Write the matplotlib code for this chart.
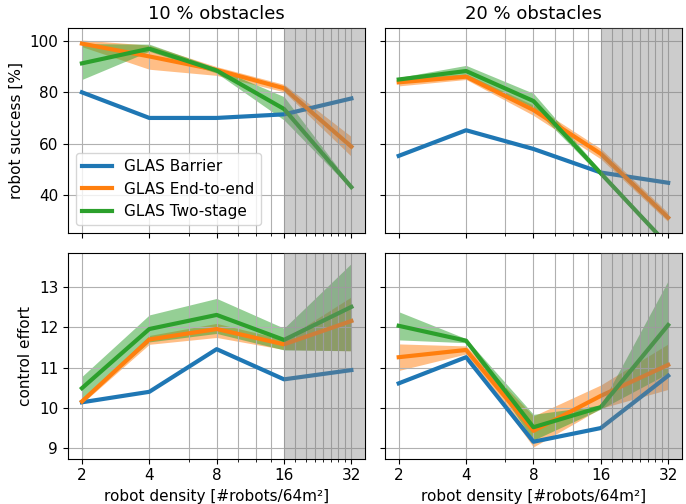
import matplotlib
matplotlib.use("Agg")
import matplotlib.pyplot as plt
import numpy as np

density = [2, 4, 8, 16, 32]
xtick_labels = ["2", "4", "8", "16", "32"]
methods = ["GLAS Barrier", "GLAS End-to-end", "GLAS Two-stage"]
colors = ["#1f77b4", "#ff7f0e", "#2ca02c"]
titles = ["10 % obstacles", "20 % obstacles"]

# success [%] mean / lower / upper  (10 % obstacles)
succ10_barrier = [80.0, 70.0, 70.0, 71.4, 77.6]
succ10_e2e = [99.0, 94.0, 88.7, 81.6, 58.8]
succ10_e2e_lo = [97.8, 89.0, 86.6, 80.2, 55.0]
succ10_e2e_hi = [100.4, 98.4, 90.0, 83.1, 62.7]
succ10_two = [91.3, 97.0, 88.5, 73.5, 43.0]
succ10_two_lo = [85.0, 96.0, 87.5, 69.2, 42.3]
succ10_two_hi = [99.0, 98.8, 89.5, 78.3, 43.7]

# success [%]  (20 % obstacles)
succ20_barrier = [55.2, 65.2, 57.9, 48.7, 44.7]
succ20_e2e = [83.9, 86.1, 73.1, 56.0, 31.1]
succ20_e2e_lo = [82.5, 85.0, 71.0, 54.0, 29.5]
succ20_e2e_hi = [85.3, 87.2, 75.0, 58.0, 33.0]
succ20_two = [85.0, 88.3, 76.6, 48.4, 20.3]
succ20_two_lo = [84.2, 86.5, 74.0, 47.4, 19.5]
succ20_two_hi = [85.8, 90.5, 79.6, 49.4, 21.1]

# control effort  (10 % obstacles)
eff10_barrier = [10.14, 10.40, 11.46, 10.71, 10.94]
eff10_e2e = [10.16, 11.70, 11.96, 11.58, 12.16]
eff10_e2e_lo = [10.11, 11.58, 11.75, 11.45, 11.42]
eff10_e2e_hi = [10.21, 11.80, 12.10, 11.70, 12.76]
eff10_two = [10.49, 11.96, 12.31, 11.69, 12.51]
eff10_two_lo = [10.20, 11.64, 11.85, 11.44, 11.42]
eff10_two_hi = [10.78, 12.31, 12.72, 11.98, 13.59]

# control effort  (20 % obstacles)
eff20_barrier = [10.61, 11.26, 9.16, 9.50, 10.80]
eff20_e2e = [11.26, 11.44, 9.43, 10.30, 11.07]
eff20_e2e_lo = [10.93, 11.34, 9.03, 9.99, 10.46]
eff20_e2e_hi = [11.59, 11.54, 9.80, 10.57, 11.59]
eff20_two = [12.04, 11.67, 9.52, 10.02, 12.06]
eff20_two_lo = [11.69, 11.62, 9.20, 9.97, 10.86]
eff20_two_hi = [12.39, 11.72, 9.84, 10.07, 13.16]

panels = [
    [(succ10_barrier, None, None), (succ10_e2e, succ10_e2e_lo, succ10_e2e_hi), (succ10_two, succ10_two_lo, succ10_two_hi)],
    [(succ20_barrier, None, None), (succ20_e2e, succ20_e2e_lo, succ20_e2e_hi), (succ20_two, succ20_two_lo, succ20_two_hi)],
    [(eff10_barrier, None, None), (eff10_e2e, eff10_e2e_lo, eff10_e2e_hi), (eff10_two, eff10_two_lo, eff10_two_hi)],
    [(eff20_barrier, None, None), (eff20_e2e, eff20_e2e_lo, eff20_e2e_hi), (eff20_two, eff20_two_lo, eff20_two_hi)],
]

plt.rcParams['font.family'] = ['DejaVu Sans']
plt.rcParams['font.size'] = 11

fig, axes = plt.subplots(2, 2, figsize=(6.86, 5.04), dpi=100, sharex=True, sharey='row')
fig.subplots_adjust(left=0.099, right=0.994, top=0.945, bottom=0.09, wspace=0.066, hspace=0.099)

minor_ticks = [v for v in range(2, 33, 2) if v not in density]

for idx, ax in enumerate(axes.flat):
    for (mean, lo, hi), c, name in zip(panels[idx], colors, methods):
        if lo is not None:
            ax.fill_between(density, lo, hi, color=c, alpha=0.5, linewidth=0)
        ax.plot(density, mean, color=c, lw=3, label=name)
    ax.set_xscale('log', base=2)
    ax.set_xticks(density)
    ax.set_xticklabels(xtick_labels)
    ax.set_xticks(minor_ticks, minor=True)
    ax.xaxis.set_minor_formatter(matplotlib.ticker.NullFormatter())
    ax.grid(True, which='major', color='#b0b0b0', lw=0.8)
    ax.grid(True, which='minor', axis='x', color='#b0b0b0', lw=0.8)
    ax.tick_params(axis='x', which='minor', length=2)
    ax.axvspan(16, 64, color='gray', alpha=0.4, lw=0, zorder=5)

axes[0, 0].set_xlim(2 * 2 ** -0.208, 32 * 2 ** 0.2036)
axes[0, 0].set_ylim(25.1, 105.2)
axes[0, 0].set_yticks([40, 60, 80, 100])
axes[1, 0].set_ylim(8.74, 13.84)
axes[1, 0].set_yticks([9, 10, 11, 12, 13])

axes[0, 0].set_title(titles[0], fontsize=13)
axes[0, 1].set_title(titles[1], fontsize=13)
axes[0, 0].set_ylabel("robot success [%]")
axes[1, 0].set_ylabel("control effort")
axes[1, 0].set_xlabel("robot density [#robots/64m²]")
axes[1, 1].set_xlabel("robot density [#robots/64m²]")

axes[0, 0].legend(loc='lower left', fontsize=11, framealpha=0.8)

fig.savefig("out.png", dpi=100)
